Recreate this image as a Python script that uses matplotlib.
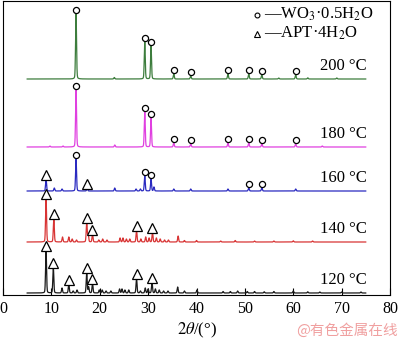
import numpy as np
import matplotlib.pyplot as plt

plt.rcParams['font.family'] = ['Liberation Serif', 'DejaVu Serif']
plt.rcParams['mathtext.fontset'] = 'stix'

# 2theta range of the scans
two_theta_start = 5.0
two_theta_end = 75.0

# peaks: (2theta, height), per sample
peaks_200 = [(15.1, 65), (29.3, 37), (30.6, 33), (35.3, 5), (38.8, 3), (46.5, 5),
             (50.8, 5), (53.5, 4), (60.5, 4), (23.0, 1.5), (57.0, 1), (63.0, 1.2), (69.0, 1)]
peaks_180 = [(15.1, 57), (29.3, 35), (30.6, 29), (35.3, 4), (38.8, 3), (46.5, 4),
             (50.8, 4), (53.5, 3), (60.5, 3), (23.1, 2), (9.7, 1), (12.4, 1), (66.0, 1)]
peaks_160 = [(8.9, 12), (10.6, 3), (12.2, 2), (15.1, 32), (17.4, 3), (23.1, 3), (27.5, 2),
             (28.4, 2), (29.3, 15), (30.6, 12), (31.2, 4), (35.3, 2), (38.8, 2), (46.5, 2),
             (50.8, 3), (53.5, 3), (60.5, 2)]
peaks_140 = [(8.9, 44), (10.5, 24), (12.3, 5), (13.6, 5), (14.3, 3), (15.2, 2), (17.3, 20),
             (17.6, 8), (18.5, 8), (19.8, 2), (20.6, 3), (21.5, 2), (24.2, 4), (24.8, 4),
             (25.5, 3), (26.2, 3), (27.6, 12), (28.5, 3), (29.5, 5), (30.2, 4), (30.9, 10),
             (31.7, 4), (32.5, 3), (33.4, 2), (34.2, 2), (36.2, 6), (37.5, 1.5), (40.0, 1.5),
             (45.0, 1), (48.0, 1.5), (52.0, 1), (56.0, 1), (60.0, 1.2), (64.0, 1)]
peaks_120 = [(8.9, 43), (10.4, 26), (12.2, 5), (13.6, 9), (14.5, 2), (15.3, 3), (17.3, 21),
             (17.7, 6), (18.5, 10), (19.9, 3), (20.5, 3), (21.3, 2), (22.3, 2), (24.1, 4),
             (24.6, 4), (25.2, 3), (26.0, 3), (27.6, 15), (28.4, 2), (29.4, 5), (30.0, 4),
             (30.8, 11), (31.5, 4), (32.3, 3), (33.2, 2), (34.1, 2), (36.1, 6), (37.5, 2),
             (40.1, 3), (45.5, 1.5), (47.0, 1.5), (48.5, 2), (50.5, 1.5), (52.0, 1.5),
             (54.0, 1.2), (56.0, 1.5), (60.0, 2), (63.0, 1.2), (65.5, 1), (70.0, 1), (74.0, 1)]

# marked peaks: circles = WO3·0.5H2O, triangles = APT·4H2O
circles_200 = [15.1, 29.3, 30.6, 35.3, 38.8, 46.5, 50.8, 53.5, 60.5]
circles_180 = [15.1, 29.3, 30.6, 35.3, 38.8, 46.5, 50.8, 53.5, 60.5]
circles_160 = [15.1, 29.3, 30.6, 50.8, 53.5]
triangles_160 = [8.9, 17.4]
triangles_140 = [8.9, 10.5, 17.3, 18.5, 27.6, 30.9]
triangles_120 = [8.9, 10.4, 13.6, 17.3, 18.5, 27.6, 30.8]

labels = ['200 °C', '180 °C', '160 °C', '140 °C', '120 °C']
offsets = [216, 148, 104, 53, 2]
colors = ['#3d7d3d', '#e040e0', '#2a2ac0', '#d83434', '#1a1a1a']
all_peaks = [peaks_200, peaks_180, peaks_160, peaks_140, peaks_120]
all_circles = [circles_200, circles_180, circles_160, [], []]
all_triangles = [[], [], triangles_160, triangles_140, triangles_120]


def profile(x, peaks, width=0.1):
    # pseudo-voigt: mostly gaussian, a little lorentzian tail
    y = np.zeros_like(x)
    for pos, h in peaks:
        g = np.exp(-0.5 * ((x - pos) / width) ** 2)
        lo = 1 / (1 + ((x - pos) / (1.2 * width)) ** 2)
        y += h * (0.8 * g + 0.2 * lo)
    return y


def peak_height(peaks, pos):
    for p, h in peaks:
        if abs(p - pos) < 1e-6:
            return h
    return 0


fig = plt.figure(figsize=(4, 3.41), dpi=100)
ax = fig.add_axes([3 / 400, 1 - 295 / 341, 387 / 400, 294 / 341])

x = np.arange(two_theta_start, two_theta_end, 0.02)
for peaks, off, col, lab, circ, tri in zip(all_peaks, offsets, colors, labels,
                                           all_circles, all_triangles):
    y = off + profile(x, peaks)
    ax.plot(x, y, color=col, lw=0.9)
    for pos in circ:
        ax.plot(pos, off + peak_height(peaks, pos) + 4, 'o', ms=4.4, mfc='white',
                mec='black', mew=0.9)
    for pos in tri:
        ax.plot(pos, off + peak_height(peaks, pos) + 4, '^', ms=6.8, mfc='white',
                mec='black', mew=0.9)
    ax.text(75.2, off + 5, lab, ha='right', va='bottom', fontsize=12)

# legend drawn by hand
ax.plot(52.5, 280.5, 'o', ms=3.5, mfc='white', mec='black', mew=0.8)
ax.text(54.0, 281, '—WO$_3$·0.5H$_2$O', ha='left', va='center', fontsize=12)
ax.plot(52.5, 261.5, '^', ms=4.5, mfc='white', mec='black', mew=0.8)
ax.text(54.0, 262, '—APT·4H$_2$O', ha='left', va='center', fontsize=12)

ax.set_xlim(0, 80)
ax.set_ylim(0, 294)
ax.set_xticks(range(0, 81, 10))
ax.set_yticks([])
ax.tick_params(axis='x', direction='in', length=5, labelsize=11.5, pad=4)
ax.set_xlabel(r'$\mathit{2\theta}$/(°)', fontsize=12, labelpad=3)

fig.text(0.995, 0.032, '@有色金属在线', ha='right', va='center', fontsize=10.5,
         color='#f0a0a0', family=['Noto Sans CJK SC', 'DejaVu Sans'])

fig.savefig('out.png', dpi=100)
